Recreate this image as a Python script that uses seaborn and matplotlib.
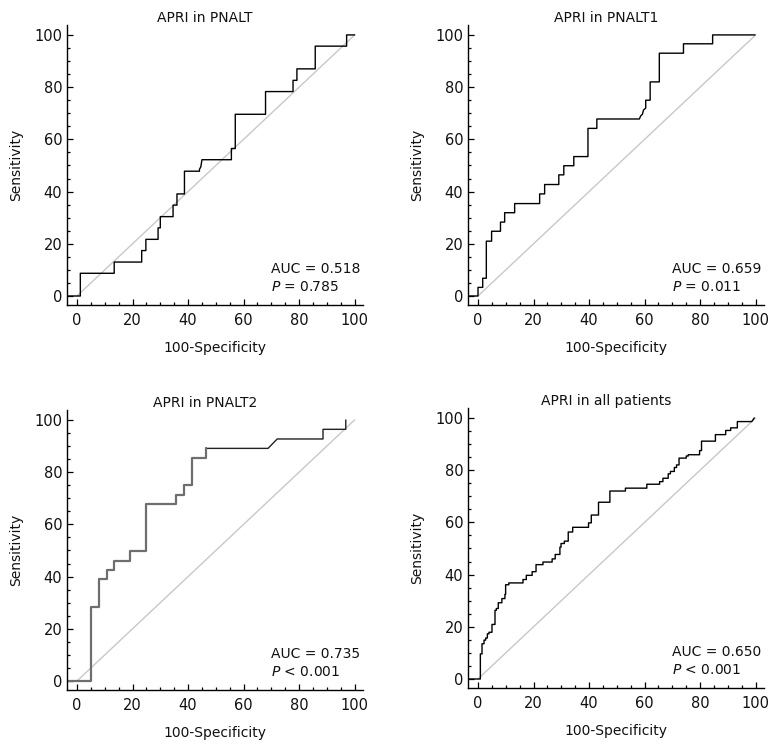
import numpy as np
import pandas as pd
import matplotlib
matplotlib.use('Agg')
import matplotlib.pyplot as plt
import seaborn as sns
from matplotlib.ticker import MultipleLocator

# ROC step vertices (100-Specificity, Sensitivity)
pnalt_fpr = [-3.4, 1.2, 1.2, 13.4, 13.4, 23.3, 23.3, 24.8, 24.8, 29.2, 29.2, 30.0, 30.0,
             34.6, 34.6, 36.0, 36.0, 38.7, 38.7, 44.1, 44.1, 44.6, 45.0, 55.6, 55.6,
             57.0, 57.0, 67.9, 67.9, 77.8, 77.8, 79.2, 79.2, 85.8, 85.8, 97.1, 97.1, 100]
pnalt_tpr = [0, 0, 8.7, 8.7, 13.0, 13.0, 17.4, 17.4, 21.7, 21.7, 26.1, 26.1, 30.4,
             30.4, 34.8, 34.8, 39.1, 39.1, 47.8, 47.8, 48.5, 49.5, 52.2, 52.2, 56.5,
             56.5, 69.6, 69.6, 78.3, 78.3, 82.6, 82.6, 87.0, 87.0, 95.7, 95.7, 100, 100]

pnalt1_fpr = [-3.4, 0, 0, 1.7, 1.7, 3.0, 3.0, 4.9, 4.9, 8.1, 8.1, 9.6, 9.6, 13.2, 13.2,
              22.2, 22.2, 24.0, 24.0, 29.1, 29.1, 30.9, 30.9, 34.5, 34.5, 39.6, 39.6,
              42.8, 42.8, 58.1, 58.6, 59.2, 59.6, 60.4, 60.4, 62.0, 62.0, 65.3, 65.3,
              74.0, 74.0, 84.5, 84.5, 99.8]
pnalt1_tpr = [0, 0, 3.3, 3.3, 6.8, 6.8, 21.0, 21.0, 24.8, 24.8, 28.3, 28.3, 31.9, 31.9,
              35.4, 35.4, 39.1, 39.1, 42.7, 42.7, 46.4, 46.4, 49.9, 49.9, 53.4, 53.4,
              64.2, 64.2, 67.8, 67.8, 69.0, 69.6, 71.2, 72.0, 75.0, 75.0, 82.0, 82.0,
              93.0, 93.0, 96.6, 96.6, 100, 100]

pnalt2_fpr = [-3.4, 4.9, 4.9, 8.0, 8.0, 10.8, 10.8, 13.3, 13.3, 19.1, 19.1, 24.8, 24.8,
              35.6, 35.6, 38.6, 38.6, 41.5, 41.5, 46.4, 46.4, 68.8, 72.1, 88.6, 88.6,
              96.8, 96.8]
pnalt2_tpr = [0, 0, 28.3, 28.3, 39.0, 39.0, 42.6, 42.6, 46.0, 46.0, 49.9, 49.9, 67.9,
              67.9, 71.4, 71.4, 75.0, 75.0, 85.6, 85.6, 89.1, 89.1, 92.7, 92.7, 96.4,
              96.4, 100]

all_fpr = [-3.4, 0.85, 0.85, 1.45, 1.45, 2.17, 2.17, 2.77, 2.77, 3.37, 3.37, 3.96, 3.96,
           5.04, 5.04, 6.12, 6.12, 6.6, 6.6, 7.3, 7.3, 8.6, 8.6, 9.7, 9.7, 9.95, 9.95,
           11.1, 11.1, 16.2, 16.2, 17.4, 17.4, 19.5, 19.5, 20.9, 20.9, 23.4, 23.4, 26.7,
           26.7, 27.8, 27.8, 29.5, 29.5, 29.9, 29.9, 31.1, 31.1, 32.5, 32.5, 34.1, 34.1,
           39.8, 39.8, 40.8, 40.8, 43.4, 43.4, 47.5, 47.5, 53.1, 53.1, 60.8, 60.8, 65.4,
           65.4, 66.6, 66.6, 68.5, 68.5, 69.3, 69.3, 70.7, 70.7, 71.5, 71.5, 72.4, 72.4,
           75.0, 75.0, 75.7, 75.7, 79.8, 79.8, 80.5, 80.5, 85.5, 85.5, 89.2, 89.2, 91.0,
           91.0, 93.4, 93.4, 98.6, 99.5]
all_tpr = [0, 0, 9.6, 9.6, 13.5, 13.5, 14.9, 14.9, 15.7, 15.7, 17.3, 17.3, 17.9, 17.9,
           20.9, 20.9, 26.3, 26.3, 27.0, 27.0, 29.2, 29.2, 30.8, 30.8, 32.4, 32.4, 36.1,
           36.1, 36.8, 36.8, 38.1, 38.1, 39.7, 39.7, 41.1, 41.1, 43.8, 43.8, 44.8, 44.8,
           46.0, 46.0, 47.7, 47.7, 50.5, 50.5, 51.9, 51.9, 52.8, 52.8, 56.3, 56.3, 58.1,
           58.1, 59.8, 59.8, 62.8, 62.8, 67.7, 67.7, 72.0, 72.0, 73.1, 73.1, 74.6, 74.6,
           75.6, 75.6, 76.9, 76.9, 78.6, 78.6, 79.5, 79.5, 81.0, 81.0, 82.0, 82.0, 84.6,
           84.6, 85.4, 85.4, 85.9, 85.9, 87.5, 87.5, 91.1, 91.1, 93.6, 93.6, 95.2, 95.2,
           96.2, 96.2, 98.6, 98.6, 100]

titles = ['APRI in PNALT', 'APRI in PNALT1', 'APRI in PNALT2', 'APRI in all patients']
auc_values = ['0.518', '0.659', '0.735', '0.650']
p_values = ['= 0.785', '= 0.011', '< 0.001', '< 0.001']
curves = [(pnalt_fpr, pnalt_tpr), (pnalt1_fpr, pnalt1_tpr),
          (pnalt2_fpr, pnalt2_tpr), (all_fpr, all_tpr)]
diag = [0, 100]

sns.set_style('white')
plt.rcParams['font.family'] = ['DejaVu Sans']
plt.rcParams['mathtext.fontset'] = 'dejavusans'

W, H = 781, 749
fig = plt.figure(figsize=(W / 100, H / 100), dpi=100)
# axes boxes in pixels: left, top, right, bottom
boxes = [(67, 25, 363, 305), (468, 25, 764, 305),
         (67, 410, 363, 690), (468, 408, 764, 688)]

for i, (fpr, tpr) in enumerate(curves):
    l, t, r, b = boxes[i]
    ax = fig.add_axes([l / W, 1 - b / H, (r - l) / W, (b - t) / H])
    sns.lineplot(x=diag, y=diag, color='#c8c8c8', lw=1.0, ax=ax)
    roc = pd.DataFrame({'fpr': fpr, 'tpr': tpr})
    if i == 2:
        # this panel is drawn grey up to the plateau and black after it
        sns.lineplot(data=roc.iloc[20:], x='fpr', y='tpr', sort=False, estimator=None,
                     color='#222222', lw=1.0, ax=ax)
        sns.lineplot(data=roc.iloc[:21], x='fpr', y='tpr', sort=False, estimator=None,
                     color='#6e6e6e', lw=1.6, ax=ax)
    else:
        sns.lineplot(data=roc, x='fpr', y='tpr', sort=False, estimator=None,
                     color='black', lw=1.0, ax=ax)

    ax.set_xlim(-3.6, 103)
    ax.set_ylim(-3.45, 103.8)
    ax.xaxis.set_major_locator(MultipleLocator(20))
    ax.yaxis.set_major_locator(MultipleLocator(20))
    ax.xaxis.set_minor_locator(MultipleLocator(5))
    ax.yaxis.set_minor_locator(MultipleLocator(5))
    ax.tick_params(which='both', direction='in', color='black', width=0.9,
                   bottom=True, left=True, top=False, right=False)
    ax.tick_params(which='major', length=4.5, labelsize=10.5, labelcolor='#111111')
    ax.tick_params(which='minor', length=2.5)
    ax.tick_params(axis='x', which='major', pad=6)
    ax.tick_params(axis='y', which='major', pad=3.5)
    for s in ['top', 'right']:
        ax.spines[s].set_visible(False)
    for s in ['left', 'bottom']:
        ax.spines[s].set_color('black')
        ax.spines[s].set_linewidth(1.0)

    ax.set_title(titles[i], fontsize=10, x=0.466, pad=2.5, color='#111111')
    ax.set_xlabel('100-Specificity', fontsize=10, labelpad=9, color='#111111')
    ax.set_ylabel('Sensitivity', fontsize=10, labelpad=8, color='#111111')

    ax.text(70, 8.8, f'AUC = {auc_values[i]}', fontsize=10, va='baseline', color='#111111')
    ax.text(70, 2.0, r'$\mathit{P}$ ' + p_values[i], fontsize=10, va='baseline',
            color='#111111')

fig.savefig('out.png', dpi=100)
